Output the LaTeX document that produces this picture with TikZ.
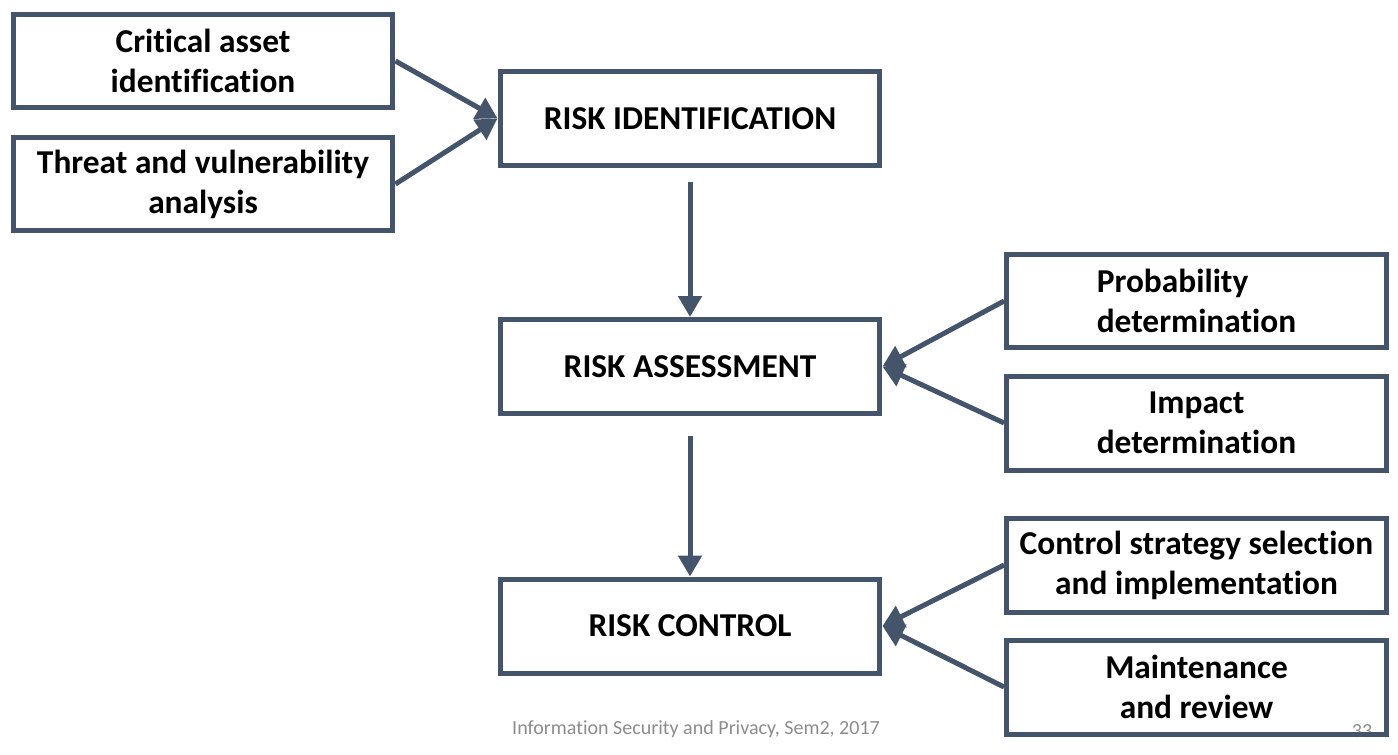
\documentclass[tikz,border=0pt]{standalone}
\usepackage{fontspec}
\setmainfont[Ligatures={NoCommon}]{Carlito}
\usetikzlibrary{arrows.meta}
\definecolor{slate}{HTML}{44546A}
\definecolor{footgray}{HTML}{8C8C8C}
\tikzset{
  stepbox/.style={draw=slate, line width=0.1cm, minimum width=7.6cm,
    minimum height=1.88cm, align=center, font=\fontsize{19}{22.7}\selectfont\bfseries},
  flow/.style={draw=slate, line width=0.1cm, -{Triangle[length=0.42cm,width=0.46cm]}},
  foottext/.style={text=footgray, font=\fontsize{11.4}{13}\selectfont, inner sep=0pt}
}
\begin{document}
\begin{tikzpicture}[x=0.02cm,y=-0.02cm]

  \useasboundingbox (0,0) rectangle (1398,754);

  % footer
  \node[foottext] (foot) at (696,729) {Information Security and Privacy, Sem2, 2017};
  \node[foottext] (page) at (1362,731) {33};

  % main column
  \node[stepbox] (rid) at (690,118.5) {RISK IDENTIFICATION};
  \node[stepbox] (ras) at (690,366.5) {RISK ASSESSMENT};
  \node[stepbox] (rco) at (690,626) {RISK CONTROL};

  % inputs
  \node[stepbox] (asset) at (203,61) {Critical asset\\identification};
  \node[stepbox] (threat) at (203,184) {Threat and vulnerability\\analysis};
  \node[stepbox, align=left] (prob) at (1196.5,301) {Probability\\determination};
  \node[stepbox] (impact) at (1196.5,423) {Impact\\determination};
  \node[stepbox] (strat) at (1196.5,565) {Control strategy selection\\and implementation};
  \node[stepbox] (maint) at (1196.5,687) {Maintenance\\and review};

  \foreach \src in {asset,threat}{
    \draw[flow] (\src.east) -- (rid.west);
  }
  \foreach \src in {prob,impact}{
    \draw[flow] (\src.west) -- (ras.east);
  }
  \foreach \src in {strat,maint}{
    \draw[flow] (\src.west) -- (rco.east);
  }

  \draw[flow, shorten <=0.28cm] (rid.south) -- (ras.north);
  \draw[flow, shorten <=0.4cm] (ras.south) -- (rco.north);

\end{tikzpicture}
\end{document}
